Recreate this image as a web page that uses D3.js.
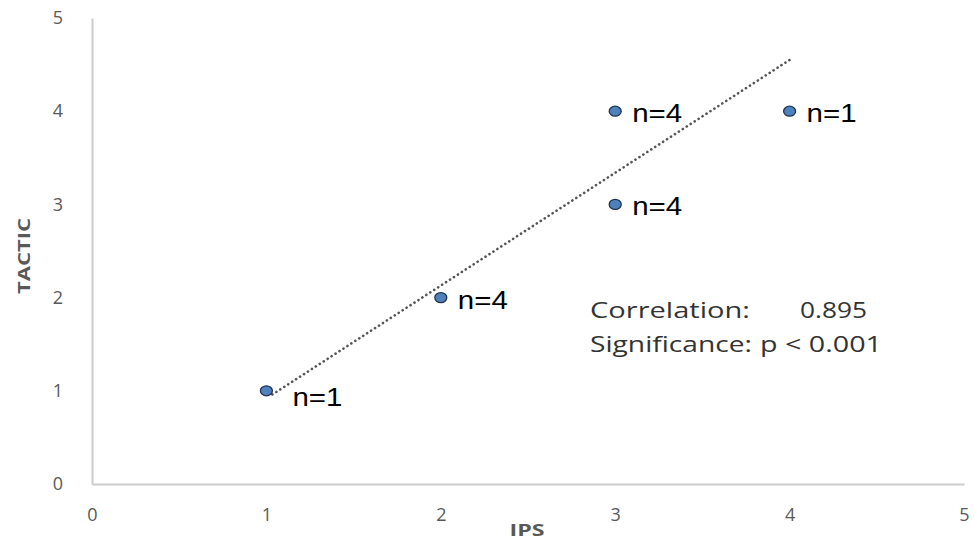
<!DOCTYPE html>
<html><head><meta charset="utf-8">
<script src="https://cdn.jsdelivr.net/npm/d3@7"></script>
<style>body{margin:0;background:#fff}</style>
</head><body>
<svg id="c" width="974" height="540"></svg>
<script>
const xTicks = [0,1,2,3,4,5];
const yTicks = [0,1,2,3,4,5];
const ipsValues = [1,2,3,3,4];
const tacticValues = [1,2,3,4,4];
const countLabels = ["n=1","n=4","n=4","n=4","n=1"];
const trendX = [1,4];
const trendY = [0.96,4.55];
const statLabels = ["Correlation:","Significance:"];
const statValues = ["0.895","p < 0.001"];

const svg = d3.select("#c");
const x = d3.scaleLinear().domain([0,5]).range([92,964]);
const y = d3.scaleLinear().domain([0,5]).range([484,18]);
const tickFont = "'Open Sans', sans-serif";
const gray = "#595959";

const xa = svg.append("g").attr("transform","translate(0,484)")
  .call(d3.axisBottom(x).tickValues(xTicks).tickSize(0).tickPadding(24).tickFormat(d3.format("d")));
const ya = svg.append("g").attr("transform","translate(92,0)")
  .call(d3.axisLeft(y).tickValues(yTicks).tickSize(0).tickFormat(d3.format("d")));
[xa,ya].forEach(a=>{
  a.select(".domain").attr("stroke","#cccccc").attr("stroke-width",2);
  a.selectAll("text").attr("fill",gray).style("font-family",tickFont).style("font-size","18px");
});
ya.selectAll("text").attr("x",-34).attr("text-anchor","middle");

svg.append("text").attr("x",527).attr("y",536).attr("text-anchor","middle")
  .attr("textLength",35).attr("lengthAdjust","spacingAndGlyphs")
  .attr("fill",gray).style("font-family",tickFont).style("font-size","16px").style("font-weight","bold").text("IPS");
svg.append("text").attr("transform","translate(30,256) rotate(-90)").attr("text-anchor","middle")
  .attr("textLength",76).attr("lengthAdjust","spacingAndGlyphs")
  .attr("fill",gray).style("font-family",tickFont).style("font-size","16px").style("font-weight","bold").text("TACTIC");

svg.append("line")
  .attr("x1",x(trendX[0])+6).attr("y1",y(trendY[0]))
  .attr("x2",x(trendX[1])).attr("y2",y(trendY[1]))
  .attr("stroke","#555").attr("stroke-width",2.6)
  .attr("stroke-dasharray","0.1 4.6").attr("stroke-linecap","round");

const pts = ipsValues.map((v,i)=>({x:v,y:tacticValues[i],n:countLabels[i]}));
svg.selectAll("ellipse.pt").data(pts).join("ellipse").attr("class","pt")
  .attr("cx",d=>x(d.x)).attr("cy",d=>y(d.y)).attr("rx",6).attr("ry",5)
  .attr("fill","#4f81bd").attr("stroke","#1f3350").attr("stroke-width",1.3);

svg.selectAll("text.n").data(pts).join("text").attr("class","n")
  .attr("x",d=>x(d.x)+ (d.x===1?26:17))
  .attr("y",d=>y(d.y)+ (d.x===1?15:11))
  .attr("textLength",50).attr("lengthAdjust","spacingAndGlyphs")
  .attr("fill","#000").style("font-family","'Liberation Sans', Arial, sans-serif").style("font-size","26px")
  .text(d=>d.n);

const labelLen = [160,162], valueLen = [67,122], valueX = [800,760];
statLabels.forEach((s,i)=>{
  svg.append("text").attr("x",590).attr("y",318+i*34).attr("fill","#333333")
    .attr("textLength",labelLen[i]).attr("lengthAdjust","spacingAndGlyphs")
    .style("font-family",tickFont).style("font-size","21px").text(s);
  svg.append("text").attr("x",valueX[i]).attr("y",318+i*34).attr("fill","#333333")
    .attr("textLength",valueLen[i]).attr("lengthAdjust","spacingAndGlyphs")
    .style("font-family",tickFont).style("font-size","21px").text(statValues[i]);
});
</script>
</body></html>
